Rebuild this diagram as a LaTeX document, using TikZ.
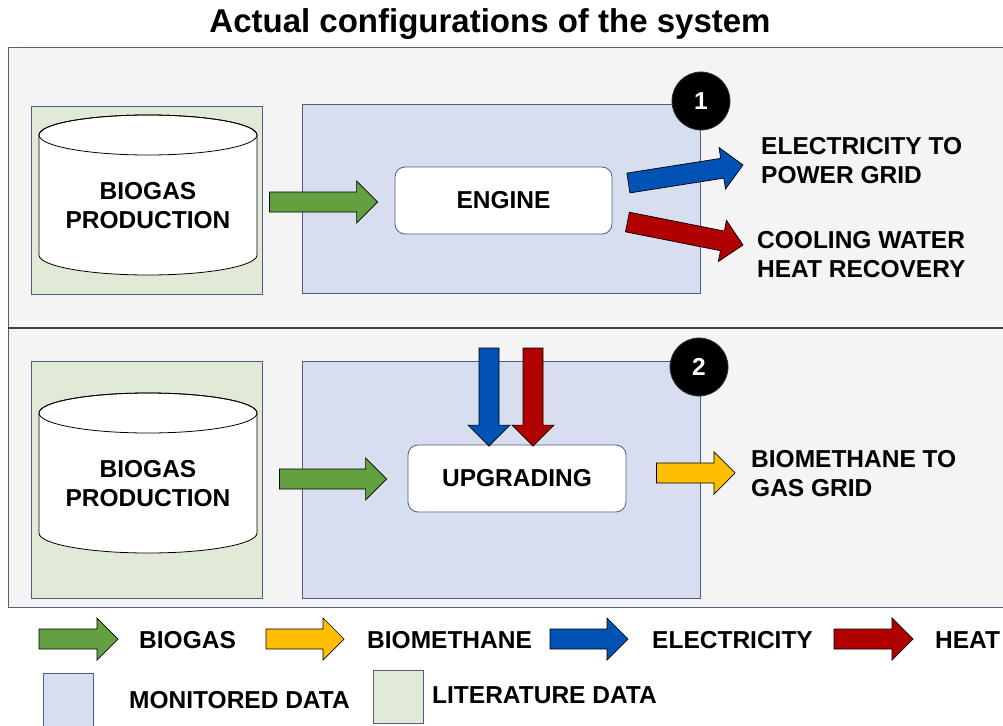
\documentclass[tikz,border=0pt]{standalone}
\usepackage{fontspec}
\setmainfont{Liberation Sans}
\usetikzlibrary{positioning,calc}

\definecolor{panelgray}{HTML}{F4F4F4}
\definecolor{edgeblue}{HTML}{4E5D80}
\definecolor{monfill}{HTML}{D7DEEF}
\definecolor{litfill}{HTML}{E1EAD6}
\definecolor{gasgreen}{HTML}{63A03F}
\definecolor{methyellow}{HTML}{FFBE00}
\definecolor{elecblue}{HTML}{0052B4}
\definecolor{heatred}{HTML}{B00000}

\def\shaft{10pt} % half width of the arrow body
\def\headw{21pt} % half width of the arrow head
\def\headl{21pt} % length of the arrow head

\newcommand\flow[3]{%
\coordinate (neck) at ($(#3)!\headl!(#2)$);
\filldraw[draw=black, line width=0.7pt, fill=#1]
	($(#2)!\shaft!90:(#3)$) -- ($(neck)!\shaft!-90:(#2)$) -- ($(neck)!\headw!-90:(#2)$)
	-- (#3) -- ($(neck)!\headw!90:(#2)$) -- ($(neck)!\shaft!90:(#2)$)
	-- ($(#2)!\shaft!-90:(#3)$) -- cycle;
}
\newcommand\tank[3]{% x centre, y of top rim, y of bottom rim
\filldraw[draw=black, line width=0.8pt, fill=white] (#1-109,#2) -- (#1-109,#3)
	arc[start angle=180, end angle=360, x radius=109, y radius=20] -- (#1+109,#2)
	arc[start angle=0, end angle=180, x radius=109, y radius=20] -- cycle;
\draw[line width=0.8pt] (#1,#2) ellipse[x radius=109, y radius=20];
}

\begin{document}
\begin{tikzpicture}[x=1pt, y=1pt,
	every node/.style={font=\bfseries\fontsize{24.5}{29}\selectfont},
	panel/.style={draw=edgeblue, line width=1pt, fill=panelgray},
	databox/.style={draw=edgeblue, line width=0.8pt, inner sep=0pt},
	unit/.style={draw=edgeblue, line width=0.8pt, fill=white, rounded corners=10pt,
		minimum width=217pt, minimum height=67pt},
	badge/.style={circle, fill=black, draw=edgeblue!50!black, line width=0.8pt,
		minimum size=58pt, inner sep=0pt, text=white},
	txt/.style={align=left, inner sep=0pt, anchor=west},
	tanktxt/.style={align=center, inner sep=0pt}]

	\useasboundingbox (0,0) rectangle (1003,-725);

	%% title
	\node[font=\bfseries\fontsize{33}{40}\selectfont, anchor=base, inner sep=0pt] (title)
		at (490,-33) {Actual configurations of the system};

	%% configuration 1: engine
	\draw[panel] (8,-48) rectangle (1015,-328);

	\node[databox, fill=litfill, minimum width=231pt, minimum height=188pt] (lit1) at (146.5,-200) {};
	\tank{148}{-135}{-255}
	\node[tanktxt] (prod1) at (148,-206) {BIOGAS\\PRODUCTION};

	\node[databox, fill=monfill, minimum width=398pt, minimum height=189pt] (mon1) at (501,-198.5) {};
	\node[unit] (engine) at (503.5,-200.5) {ENGINE};
	\node[badge] (one) at (701,-101) {1};

	\node[txt] (power) at (761,-160.5) {ELECTRICITY TO\\POWER GRID};
	\node[txt] (cooling) at (757,-254.5) {COOLING WATER\\HEAT RECOVERY};

	\coordinate (gasA1) at ($(lit1.east)+(7,-2)$);
	\coordinate (gasB1) at ($(engine.west)+(-17,-1.5)$);
	\coordinate (elecA1) at ($(engine.east)+(16,17.5)$);
	\coordinate (elecB1) at (743,-165);
	\coordinate (heatA1) at ($(engine.east)+(15,-21.5)$);
	\coordinate (heatB1) at (743,-245);

	\flow{gasgreen}{gasA1}{gasB1}
	\flow{elecblue}{elecA1}{elecB1}
	\flow{heatred}{heatA1}{heatB1}

	%% configuration 2: upgrading
	\draw[panel] (8,-328) rectangle (1015,-607);
	\draw[black!75, line width=1.2pt] (8,-328) -- (1015,-328);

	\node[databox, fill=litfill, minimum width=231pt, minimum height=237pt] (lit2) at (146.5,-479.5) {};
	\tank{148}{-413}{-533}
	\node[tanktxt] (prod2) at (148,-483.5) {BIOGAS\\PRODUCTION};

	\node[databox, fill=monfill, minimum width=398pt, minimum height=237pt] (mon2) at (501,-479.5) {};
	\node[unit, minimum width=218pt] (upg) at (517,-478.5) {UPGRADING};
	\node[badge] (two) at (699,-367) {2};

	\node[txt] (grid) at (751,-473.5) {BIOMETHANE TO\\GAS GRID};

	\coordinate (gasA2) at ($(lit2.east)+(17,0.5)$);
	\coordinate (gasB2) at ($(upg.west)+(-21,-0.5)$);
	\coordinate (elecA2) at (489,-348);
	\coordinate (elecB2) at ($(upg.north)+(-28,-1.5)$);
	\coordinate (heatA2) at (533,-348);
	\coordinate (heatB2) at ($(upg.north)+(16,-1.5)$);
	\coordinate (methA) at ($(upg.east)+(30,5.5)$);
	\coordinate (methB) at (735,-473);

	\flow{gasgreen}{gasA2}{gasB2}
	\flow{elecblue}{elecA2}{elecB2}
	\flow{heatred}{heatA2}{heatB2}
	\flow{methyellow}{methA}{methB}

	%% legend
	\coordinate (lgGasA) at (39,-639);   \coordinate (lgGasB) at (118,-639);
	\coordinate (lgMethA) at (266,-639); \coordinate (lgMethB) at (344,-639);
	\coordinate (lgElecA) at (550,-639); \coordinate (lgElecB) at (628,-639);
	\coordinate (lgHeatA) at (834,-639); \coordinate (lgHeatB) at (913,-639);
	\flow{gasgreen}{lgGasA}{lgGasB}
	\flow{methyellow}{lgMethA}{lgMethB}
	\flow{elecblue}{lgElecA}{lgElecB}
	\flow{heatred}{lgHeatA}{lgHeatB}

	\node[txt] (lgGas) at (139,-640) {BIOGAS};
	\node[txt] (lgMeth) at (367,-640) {BIOMETHANE};
	\node[txt] (lgElec) at (652,-640) {ELECTRICITY};
	\node[txt] (lgHeat) at (935,-640) {HEAT};

	\node[databox, fill=monfill, minimum width=50pt, minimum height=62pt, anchor=north west] (lgMon) at (43,-673) {};
	\node[txt] (lgMonTxt) at (129,-700) {MONITORED DATA};
	\node[databox, fill=litfill, minimum width=50pt, minimum height=53pt, anchor=north west] (lgLit) at (373,-670) {};
	\node[txt] (lgLitTxt) at (432,-695) {LITERATURE DATA};

\end{tikzpicture}
\end{document}
